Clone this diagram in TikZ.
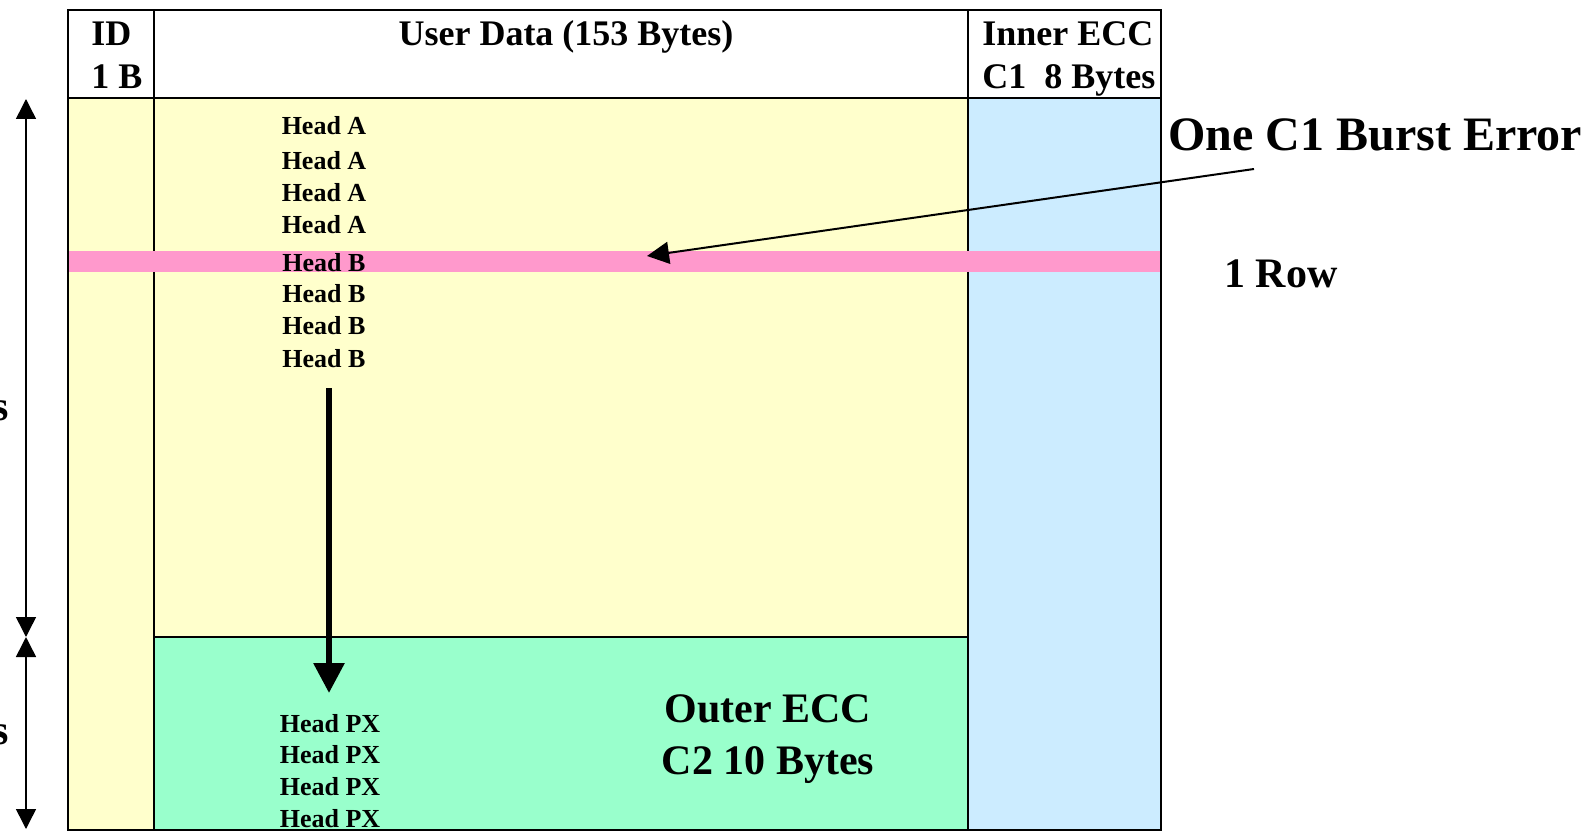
\documentclass[tikz,border=0pt]{standalone}
\usepackage{fontspec}
\setmainfont{Liberation Serif}
\usepackage{tikz}
\usetikzlibrary{arrows.meta,positioning}
\definecolor{paleyellow}{RGB}{255,255,204}
\definecolor{burstpink}{RGB}{255,153,204}
\definecolor{mintgreen}{RGB}{153,255,204}
\definecolor{paleblue}{RGB}{204,236,255}
\tikzset{
  headtxt/.style={font=\fontsize{13pt}{13pt}\selectfont\bfseries,inner sep=0pt,anchor=base},
  captxt/.style={font=\fontsize{18pt}{18pt}\selectfont\bfseries,inner sep=0pt,anchor=base},
  bigtxt/.style={font=\fontsize{21pt}{21pt}\selectfont\bfseries,inner sep=0pt,anchor=base},
  hugetxt/.style={font=\fontsize{24pt}{24pt}\selectfont\bfseries,inner sep=0pt,anchor=base west}
}

\begin{document}
\begin{tikzpicture}[x=0.5pt,y=-0.5pt,>={Triangle[length=10pt,width=10pt]}]
\useasboundingbox (0,0) rectangle (1590,834);

    % Coloured areas of the block
    \fill[paleyellow] (68,98) rectangle (968,830);
    \fill[mintgreen] (154,637) rectangle (968,830);
    \fill[paleblue] (968,98) rectangle (1161,830);
    \fill[burstpink] (68,251) rectangle (1161,272);

    % Column and row lines
    \draw[line width=0.8pt] (68,98) -- (1161,98);
    \draw[line width=0.8pt] (154,10) -- (154,251) (154,272) -- (154,830);
    \draw[line width=0.8pt] (968,10) -- (968,251) (968,272) -- (968,830);
    \draw[line width=1pt] (154,637) -- (968,637);
    \draw[line width=1.1pt] (68,10) rectangle (1161,830);

    % Header texts
    \node[captxt,anchor=base west] (id) at (91,46) {ID};
    \node[captxt,anchor=base west] (idsize) at (91,89) {1 B};
    \node[captxt] (user) at (566,46) {User Data (153 Bytes)};
    \node[captxt,anchor=base west] (inner) at (982,46) {Inner ECC};
    \node[captxt,anchor=base west] (innersize) at (982,89) {C1\ \ 8 Bytes};

    % Rows of heads
    \foreach \y [count=\i] in {135,170,202,234}
        \node[headtxt] (ha\i) at (324,\y) {Head A};
    \foreach \y [count=\i] in {271,303,335,367}
        \node[headtxt] (hb\i) at (324,\y) {Head B};
    \foreach \y [count=\i] in {732,763,795,827}
        \node[headtxt] (px\i) at (330,\y) {Head PX};

    % Outer ECC label
    \node[bigtxt] (outer) at (768,722) {Outer ECC};
    \node[bigtxt] (outersize) at (768,774) {C2 10 Bytes};

    % Interleaving arrow
    \coordinate (drop) at (329,388);
    \coordinate (land) at (329,693);
    \draw[->,line width=3pt,>={Triangle[length=15pt,width=15pt]}] (drop) -- (land);

    % Burst error
    \node[hugetxt] (burst) at (1168,151) {One C1 Burst Error};
    \node[bigtxt,anchor=base west] (row) at (1224,288) {1 Row};
    \coordinate (bstart) at (1254,169);
    \coordinate (btip) at (647,256);
    \draw[->,line width=1pt,>={Triangle[length=11pt,width=11pt]}] (bstart) -- (btip);

    % Dimension arrows on the left
    \coordinate (dtop) at (26,99);
    \coordinate (dmid) at (26,637);
    \coordinate (dbot) at (26,829);
    \draw[<->,line width=0.75pt] (dtop) -- (dmid);
    \draw[<->,line width=0.75pt] (dmid) -- (dbot);
    \node[bigtxt,anchor=base east] (rowsa) at (9,420) {s};
    \node[bigtxt,anchor=base east] (rowsb) at (9,744) {s};
\end{tikzpicture}
\end{document}
